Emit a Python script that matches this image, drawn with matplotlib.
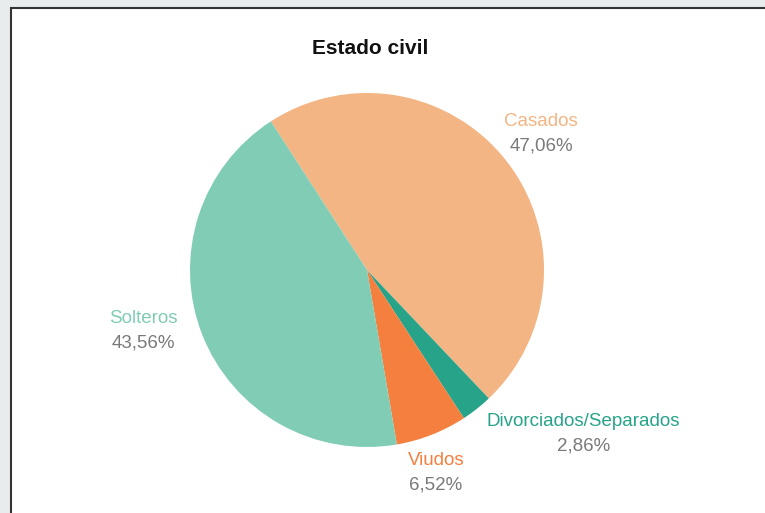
import numpy as np
import matplotlib
matplotlib.use('Agg')
import matplotlib.pyplot as plt
from matplotlib.patches import Rectangle

plt.rcParams['font.family'] = ['Liberation Sans', 'DejaVu Sans']

# Data
labels = ['Casados', 'Divorciados/Separados', 'Viudos', 'Solteros']
values = [47.06, 2.86, 6.52, 43.56]
pct_text = ['47,06%', '2,86%', '6,52%', '43,56%']
colors = ['#f3b583', '#27a38a', '#f47f3e', '#80ccb5']

# label placement (angle in degrees, distance in radii) per slice
label_pos = [(38.1, 1.249), (-37.1, 1.531), (-71.2, 1.211), (195.2, 1.312)]

W, H = 765, 513
cx, cy, r = 367, 270, 177

fig = plt.figure(figsize=(W / 100, H / 100), dpi=100)
fig.patch.set_facecolor('#e8eced')

# white panel with dark left/top border
panel = Rectangle((11 / W, -0.1), 1, 1.1 - 8 / H, transform=fig.transFigure,
                  facecolor='white', edgecolor='#333333', linewidth=1.5, zorder=-1)
fig.patches.append(panel)

ax = fig.add_axes([0, 0, 1, 1], zorder=1)
ax.set_aspect('equal')
ax.axis('off')
ax.patch.set_alpha(0)

ax.pie(values, colors=colors, startangle=122.9, counterclock=False,
       radius=1, wedgeprops=dict(linewidth=0))
ax.set_xlim(-cx / r, (W - cx) / r)
ax.set_ylim(-(H - cy) / r, cy / r)

for lab, pct, col, (ang, d) in zip(labels, pct_text, colors, label_pos):
    x = d * np.cos(np.radians(ang))
    y = d * np.sin(np.radians(ang))
    ax.text(x, y + 0.07, lab, color=col, fontsize=13.5, ha='center', va='center')
    ax.text(x, y - 0.07, pct, color='#7a7a7a', fontsize=13.5, ha='center', va='center')

fig.text(370 / W, 1 - 48 / H, 'Estado civil', fontsize=15, fontweight='bold',
         ha='center', va='center', color='#111111', zorder=2)

fig.savefig('out.png', dpi=100, facecolor=fig.get_facecolor())
